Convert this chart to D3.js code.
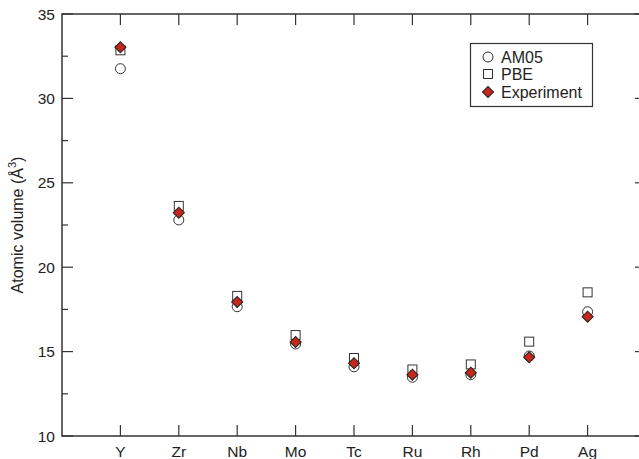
<!DOCTYPE html>
<head>
	<meta charset="UTF-8">
	<script src="https://d3js.org/d3.v7.min.js"></script>
	<title>Atomic volume</title>
<style>
	body{ margin: 0; background-color: white; }
	svg{ display: block; font-family: 'Liberation Sans', Arial, sans-serif; }
</style>
</head>

<body>
	<svg width=639 height=459></svg>
</body>

<script>
	// Data
	var elements = ["Y", "Zr", "Nb", "Mo", "Tc", "Ru", "Rh", "Pd", "Ag"];
	var am05 = [31.76, 22.80, 17.66, 15.45, 14.10, 13.48, 13.63, 14.74, 17.36];
	var pbe = [32.85, 23.63, 18.30, 15.98, 14.62, 13.94, 14.24, 15.59, 18.51];
	var experiment = [33.03, 23.23, 17.94, 15.57, 14.31, 13.63, 13.75, 14.66, 17.07];
	var yTicks = [10, 15, 20, 25, 30, 35];
	var yMinor = [12.5, 17.5, 22.5, 27.5, 32.5];

	var svg = d3.select("svg");
	// plot box edges (the right edge falls just outside the picture)
	var plotLeft = 62, plotRight = 646, plotTop = 14, plotBottom = 436;
	var axisColor = "#333";

	var x = d3.scaleLinear().domain([0, 10]).range([plotLeft, plotRight]);
	var y = d3.scaleLinear().domain([10, 35]).range([plotBottom, plotTop]);
	var idx = elements.map((d, i) => i + 1);

	// Frame
	svg.append("rect")
		.attr("x", plotLeft).attr("y", plotTop)
		.attr("width", plotRight - plotLeft).attr("height", plotBottom - plotTop)
		.attr("fill", "none").attr("stroke", axisColor).attr("stroke-width", 1.5);

	// Ticks on all four sides, pointing inward
	var ticks = svg.append("g").attr("stroke", axisColor).attr("stroke-width", 1.2);
	yTicks.forEach(function(v){
		ticks.append("line").attr("x1", plotLeft).attr("x2", plotLeft + 11).attr("y1", y(v)).attr("y2", y(v));
		ticks.append("line").attr("x1", plotRight).attr("x2", plotRight - 11).attr("y1", y(v)).attr("y2", y(v));
	});
	yMinor.forEach(function(v){
		ticks.append("line").attr("x1", plotLeft).attr("x2", plotLeft + 6).attr("y1", y(v)).attr("y2", y(v));
		ticks.append("line").attr("x1", plotRight).attr("x2", plotRight - 6).attr("y1", y(v)).attr("y2", y(v));
	});
	idx.forEach(function(v){
		ticks.append("line").attr("x1", x(v)).attr("x2", x(v)).attr("y1", plotTop).attr("y2", plotTop + 11);
		ticks.append("line").attr("x1", x(v)).attr("x2", x(v)).attr("y1", plotBottom).attr("y2", plotBottom - 11);
	});

	// Tick labels
	svg.append("g").selectAll("text")
		.data(yTicks).enter()
		.append("text")
		.attr("x", plotLeft - 7)
		.attr("y", d => y(d) + 5.5)
		.attr("text-anchor", "end")
		.attr("font-size", 15.5)
		.attr("fill", "#222")
		.text(d => d);

	svg.append("g").selectAll("text")
		.data(elements).enter()
		.append("text")
		.attr("x", (d, i) => x(i + 1))
		.attr("y", plotBottom + 21)
		.attr("text-anchor", "middle")
		.attr("font-size", 15.5)
		.attr("fill", "#222")
		.text(d => d);

	// Y axis title
	var title = svg.append("text")
		.attr("transform", "translate(23," + ((plotTop + plotBottom) / 2) + ") rotate(-90)")
		.attr("text-anchor", "middle")
		.attr("font-size", 16)
		.attr("fill", "#222");
	title.append("tspan").text("Atomic volume (Å");
	title.append("tspan").attr("font-size", 11).attr("dy", -7).text("3");
	title.append("tspan").attr("dy", 7).text(")");

	// Markers
	var diamond = d3.symbol().type(d3.symbolSquare).size(62);

	svg.append("g").selectAll("circle")
		.data(am05).enter()
		.append("circle")
		.attr("cx", (d, i) => x(i + 1))
		.attr("cy", d => y(d))
		.attr("r", 5)
		.attr("fill", "white")
		.attr("stroke", axisColor)
		.attr("stroke-width", 1);

	svg.append("g").selectAll("rect")
		.data(pbe).enter()
		.append("rect")
		.attr("x", (d, i) => x(i + 1) - 4.5)
		.attr("y", d => y(d) - 4.5)
		.attr("width", 9).attr("height", 9)
		.attr("fill", "white")
		.attr("stroke", axisColor)
		.attr("stroke-width", 1);

	svg.append("g").selectAll("path")
		.data(experiment).enter()
		.append("path")
		.attr("d", diamond)
		.attr("transform", (d, i) => "translate(" + x(i + 1) + "," + y(d) + ") rotate(45)")
		.attr("fill", "#c4271b")
		.attr("stroke", "#222")
		.attr("stroke-width", 1);

	// Legend
	var legend = svg.append("g");
	legend.append("rect")
		.attr("x", 470.5).attr("y", 43.5)
		.attr("width", 122).attr("height", 63)
		.attr("fill", "white").attr("stroke", axisColor).attr("stroke-width", 1.2);
	var legendNames = ["AM05", "PBE", "Experiment"];
	var legendY = [57, 74, 92];
	legend.append("circle").attr("cx", 488).attr("cy", legendY[0]).attr("r", 5)
		.attr("fill", "white").attr("stroke", axisColor);
	legend.append("rect").attr("x", 483.5).attr("y", legendY[1] - 4.5).attr("width", 9).attr("height", 9)
		.attr("fill", "white").attr("stroke", axisColor);
	legend.append("path").attr("d", diamond)
		.attr("transform", "translate(488," + legendY[2] + ") rotate(45)")
		.attr("fill", "#c4271b").attr("stroke", "#222");
	legend.selectAll("text.name")
		.data(legendNames).enter()
		.append("text")
		.attr("x", 501)
		.attr("y", (d, i) => legendY[i] + 5.5)
		.attr("font-size", 16)
		.attr("fill", "#222")
		.text(d => d);
</script>
